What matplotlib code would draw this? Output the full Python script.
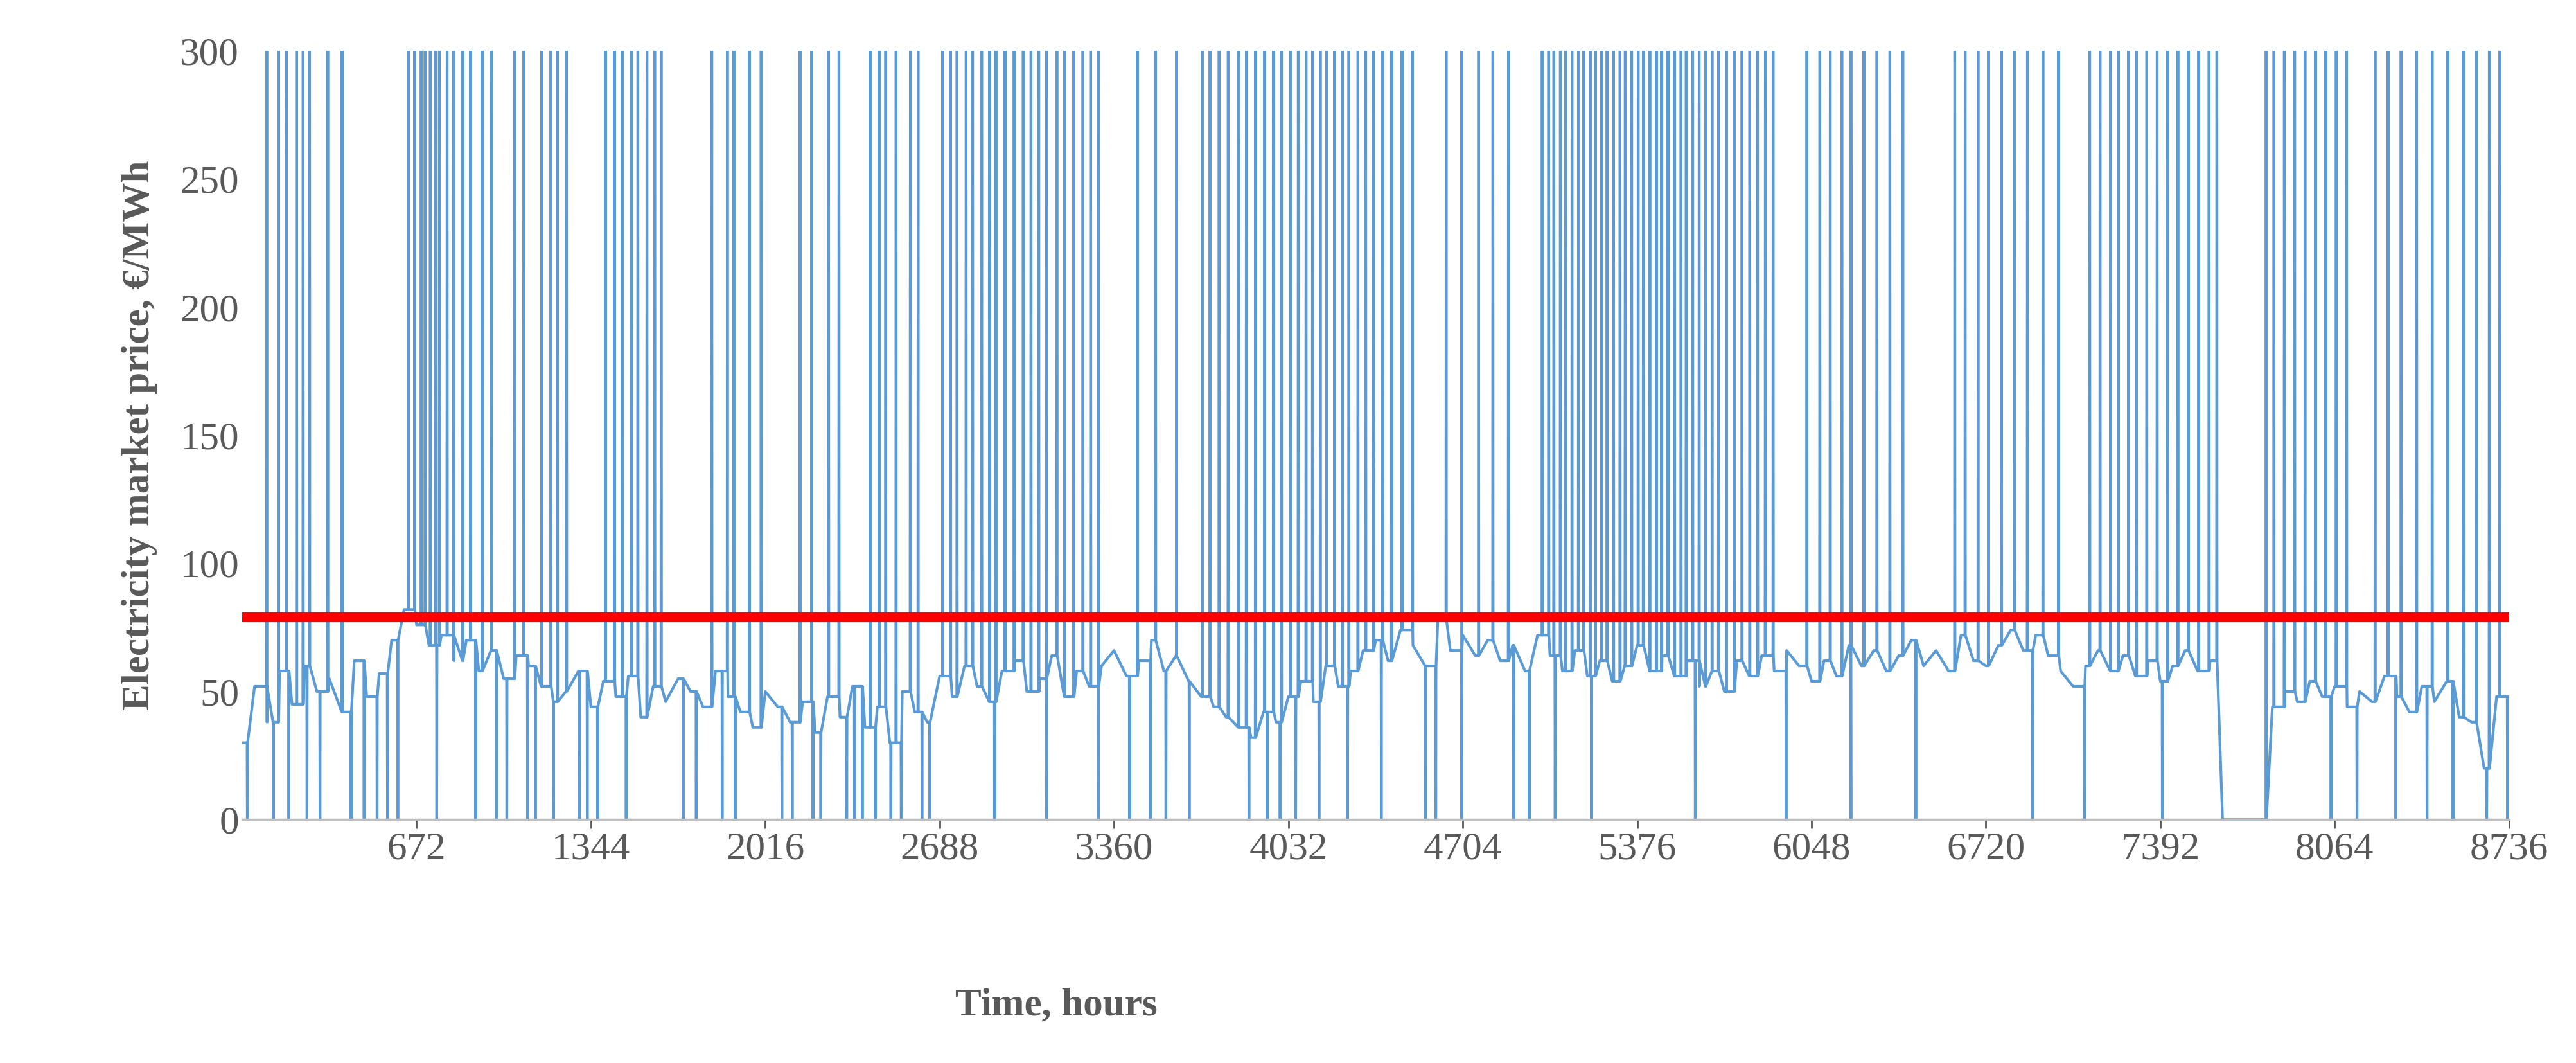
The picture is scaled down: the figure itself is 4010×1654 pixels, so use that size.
import numpy as np
import matplotlib.pyplot as plt

# base price level, one reading every 48 h (hour 0 .. 8688), EUR/MWh
base_hours = list(range(0, 8736, 48))
base_price = [
    30, 52, 38, 58, 45, 60, 50, 55, 42, 62, 48, 57, 70, 82, 76, 68,
    72, 62, 70, 58, 66, 55, 64, 60, 52, 46, 50, 58, 44, 54, 48, 56,
    40, 52, 46, 55, 50, 44, 58, 48, 42, 36, 50, 44, 38, 46, 34, 48,
    40, 52, 36, 44, 30, 50, 42, 38, 56, 48, 60, 52, 46, 58, 62, 50,
    55, 64, 48, 58, 52, 60, 66, 56, 62, 70, 58, 64, 54, 48, 44, 40,
    36, 32, 42, 38, 48, 54, 46, 60, 52, 58, 66, 70, 62, 74, 68, 60,
    78, 66, 72, 64, 70, 62, 68, 58, 72, 64, 58, 66, 56, 62, 54, 60,
    68, 58, 64, 56, 62, 52, 58, 50, 62, 56, 64, 58, 66, 60, 54, 62,
    56, 68, 60, 66, 58, 64, 70, 60, 66, 58, 72, 62, 60, 68, 74, 66,
    72, 64, 58, 52, 60, 66, 58, 64, 56, 62, 54, 60, 66, 58, 62, 0,
    0, 0, 0, 44, 50, 46, 54, 48, 52, 44, 50, 46, 56, 48, 42, 52,
    46, 54, 40, 38, 20, 48,
]

# hours where the price spikes above the 300 EUR/MWh axis limit
spike_hours = [
    95, 140, 170, 210, 235, 260, 330, 385,
    640, 665, 690, 705, 725, 745, 760, 790, 815, 850, 880, 925, 960,
    1050, 1085, 1155, 1190, 1215, 1250,
    1400, 1435, 1465, 1500, 1525, 1560, 1590, 1615,
    1810, 1870, 1895, 1955, 2000, 2150, 2195, 2260, 2300,
    2420, 2455, 2480, 2520, 2575, 2605,
    2700, 2730, 2755, 2790, 2815, 2850, 2880, 2905, 2940, 2975, 3010, 3040,
    3070, 3100, 3140, 3170, 3205, 3240, 3270, 3300,
    3450, 3520, 3600, 3700, 3730, 3765, 3800, 3840, 3870, 3905, 3940,
    3975, 4005, 4040, 4070, 4100, 4125, 4155, 4180, 4210, 4240, 4265,
    4300, 4330, 4360, 4395, 4430, 4470, 4510,
    4640, 4700, 4765, 4820, 4880,
    5010, 5035, 5055, 5080, 5100, 5125, 5150, 5170, 5195, 5215, 5240,
    5260, 5285, 5310, 5330, 5355, 5380, 5400, 5425, 5450, 5470, 5495,
    5520, 5545, 5565, 5590, 5615, 5640, 5665, 5690, 5720, 5750, 5780,
    5810, 5840, 5870, 5900,
    6030, 6080, 6120, 6165, 6200, 6250, 6300, 6350, 6400,
    6600, 6640, 6690, 6730, 6780, 6830, 6880, 6940, 7000,
    7120, 7160, 7200, 7230, 7270, 7300, 7340, 7380, 7420, 7460, 7500,
    7540, 7580, 7610,
    7800, 7830, 7870, 7910, 7950, 7990, 8030, 8070, 8110,
    8220, 8270, 8320, 8380, 8440, 8500, 8560, 8610, 8660, 8700,
]

# hours where the price drops to zero
zero_hours = [
    20, 120, 180, 250, 300, 420, 470, 520, 560, 600,
    750, 900, 980, 1020, 1100, 1130, 1200, 1300, 1330, 1370, 1480,
    1700, 1750, 1850, 1900, 2080, 2120, 2200, 2230, 2330, 2360, 2390,
    2440, 2500, 2540, 2620, 2650, 2900, 3100, 3300, 3420, 3500, 3560,
    3650, 3880, 3950, 4000, 4060, 4150, 4260, 4390, 4560, 4600, 4700,
    4900, 4960, 5060, 5200, 5600, 5950, 6200, 6450, 6900, 7100, 7400,
    8050, 8150, 8300, 8420, 8520, 8650, 8730,
]

mean_price = 79

pts = list(zip(base_hours, base_price))
base_at = dict(zip(base_hours, base_price))
for h in spike_hours:
    b = base_at[h // 48 * 48]
    pts += [(h - 1, b), (h, 320), (h + 1, b)]
for h in zero_hours:
    b = base_at[min(h // 48 * 48, base_hours[-1])]
    pts += [(h - 1, b), (h, 0), (h + 1, b)]
pts.sort()
x, y = zip(*pts)

plt.rcParams['font.family'] = ['Liberation Serif', 'DejaVu Serif']
grey = '#595959'

fig = plt.figure(figsize=(40.1, 16.54), dpi=100)
ax = fig.add_axes([0.094, 0.229, 0.880, 0.723])
ax.plot(x, y, color='#5b9bd5', lw=3)
ax.axhline(mean_price, color='#ff0000', lw=11)

ax.set_xlim(0, 8736)
ax.set_ylim(0, 300)
ax.set_xticks(range(672, 8737, 672))
ax.set_yticks(range(0, 301, 50))
ax.tick_params(labelsize=44, colors=grey, length=10, width=2)
ax.tick_params(axis='y', length=0)
for s in ['top', 'right', 'left']:
    ax.spines[s].set_visible(False)
ax.spines['bottom'].set_color('#bfbfbf')
ax.spines['bottom'].set_linewidth(2.5)

ax.set_ylabel('Electricity market price, €/MWh', fontsize=44, fontweight='bold',
              color=grey, labelpad=25)
fig.text(0.41, 0.045, 'Time, hours', fontsize=44, fontweight='bold', color=grey,
         ha='center')

fig.savefig('out.png', dpi=100)
